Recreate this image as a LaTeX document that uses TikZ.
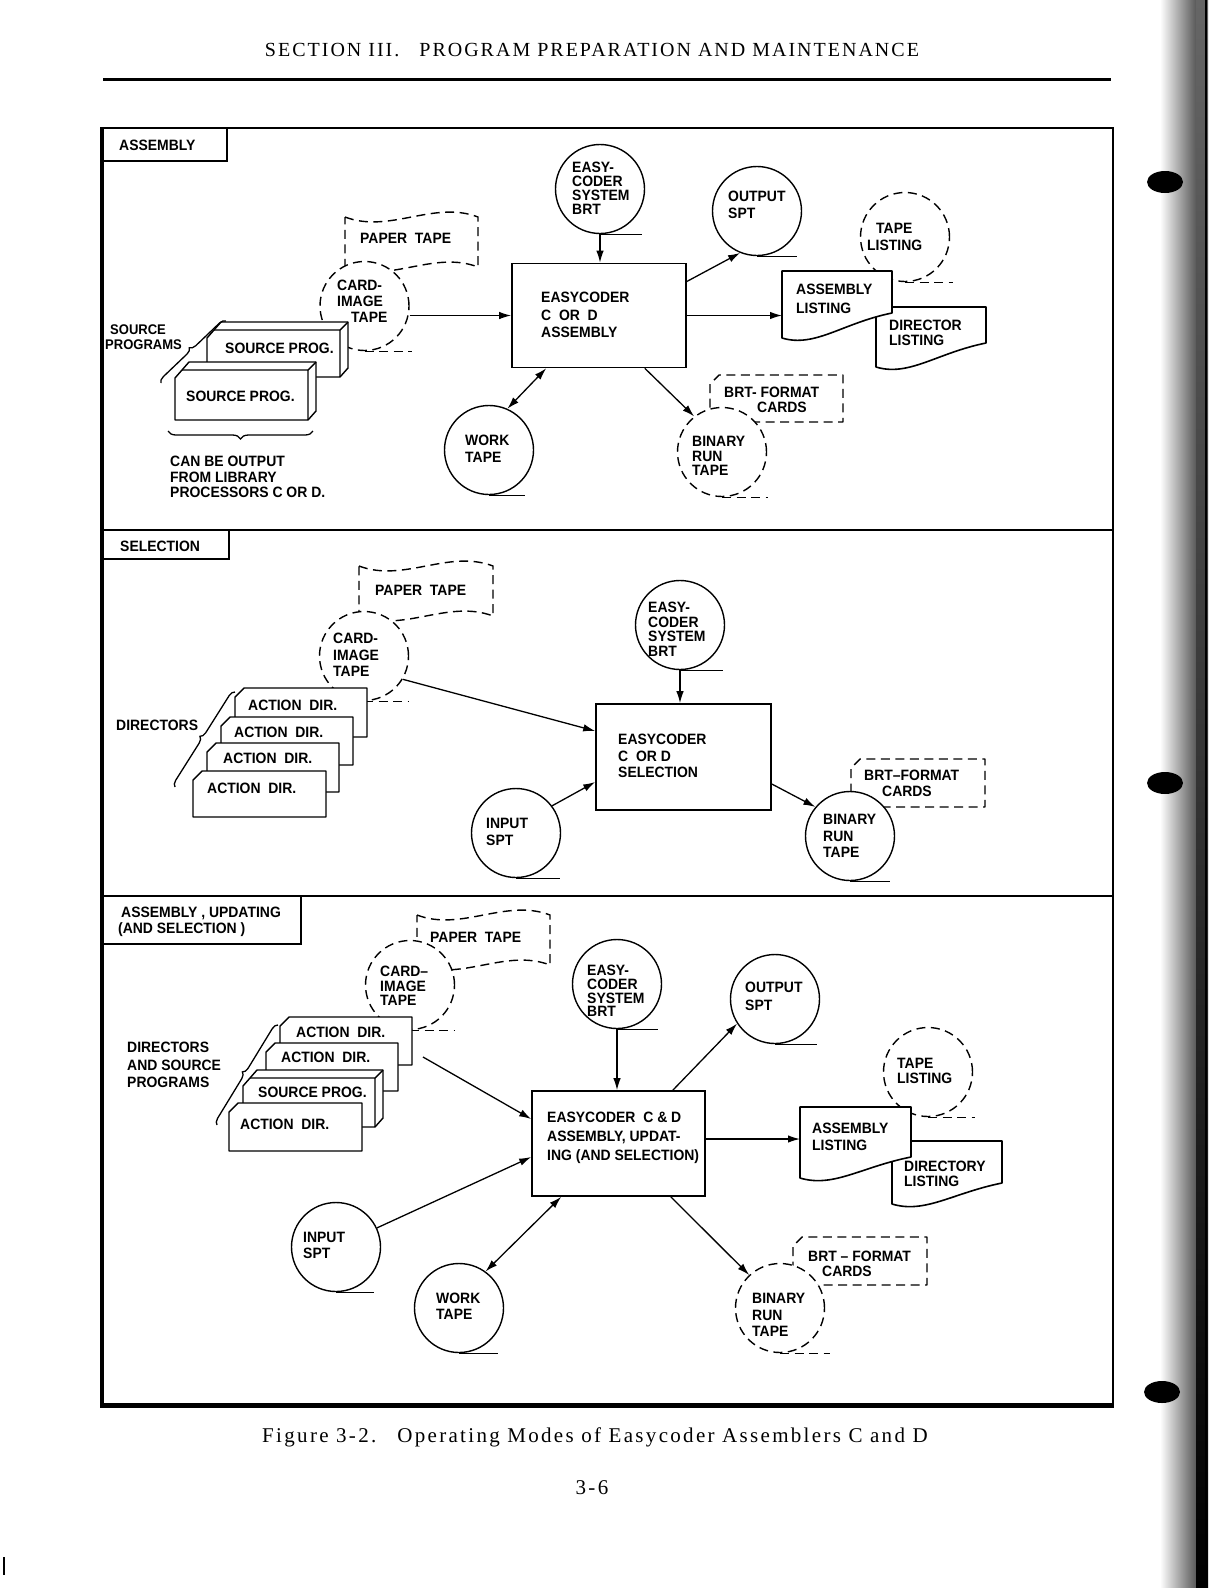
\documentclass[tikz,border=0pt]{standalone}
\usepackage{fontspec}
\setmainfont{Liberation Serif}
\newfontfamily\lblfam[FakeStretch=0.93]{Liberation Sans}
\newfontfamily\hdrfam[LetterSpace=10]{Liberation Serif}
\newfontfamily\capfam[LetterSpace=11]{Liberation Serif}
\usetikzlibrary{arrows.meta,decorations.pathreplacing,shadings}

\tikzset{
 ln/.style={line width=1.4pt},
 bx/.style={draw, line width=1.6pt, fill=white, inner sep=0pt, minimum width=174pt, minimum height=104pt},
 dsh/.style={dash pattern=on 9pt off 5.5pt},
 reel/.style={circle, draw, line width=1.4pt, fill=white, minimum size=89pt, inner sep=0pt},
 dreel/.style={reel, dsh},
 arr/.style={line width=1.3pt, -{Latex[length=12pt,width=7.5pt]}},
 darr/.style={line width=1.3pt, {Latex[length=12pt,width=7.5pt]}-{Latex[length=12pt,width=7.5pt]}},
 lab/.style={font={\fontsize{15}{#1}\selectfont\lblfam\bfseries}, anchor=north west, inner sep=0pt, align=left},
 lab/.default=17,
 brc/.style={decorate, decoration={brace, amplitude=#1}, line width=1.3pt},
 brc/.default=6pt,
}

% cut-corner card: x1 y1 x2 y2
\newcommand\cardshape[5][]{\draw[ln,fill=white,line join=round,#1] (#2,#5) -- (#2,#3+9) -- (#2+9,#3) -- (#4,#3) -- (#4,#5) -- cycle;}
% source program deck: x1 ytop x2 ybot
\newcommand\srcbox[4]{%
 \draw[ln,fill=white,line join=round] (#1,#4) -- (#1,#2+16) -- (#1+14,#2) -- (#3+8,#2) -- (#3+8,#4-9) -- (#3,#4) -- cycle;
 \draw[ln] (#1+7,#2+8) -- (#3,#2+8) -- (#3+8,#2) (#3,#2+8) -- (#3,#4);}
% paper tape: x1 ytop x2 h
\newcommand\ptape[4]{\draw[ln,dsh,fill=white] (#1,#2) .. controls ({#1+(#3-#1)/3},#2+17) and ({#1+2*(#3-#1)/3},#2-17) .. (#3,#2) -- (#3,#2+#4) .. controls ({#1+2*(#3-#1)/3},#2+#4-17) and ({#1+(#3-#1)/3},#2+#4+17) .. (#1,#2+#4) -- cycle;}
% document: x1 x2 ytop yleftbottom yrightbottom
\newcommand\docshape[5]{\draw[line width=1.6pt,fill=white,line join=round] (#1,#3) -- (#2,#3) -- (#2,#5) .. controls ({#2-0.45*(#2-#1)},#5+10) and ({#1+0.3*(#2-#1)},#4+10) .. (#1,#4) -- cycle;}
\newcommand\reeltail[3][]{\draw[ln,#1] (#2.south) -- ++(#3,0);}

\begin{document}
\begin{tikzpicture}[x=1pt,y=-1pt]
\fill[white] (0,0) rectangle (1226,1588);
\useasboundingbox (0,0) rectangle (1226,1588);

% binding edge of the scan
\shade[left color=white,right color=black!65] (1160,0) rectangle (1196,1588);
\shade[top color=black!60,bottom color=black] (1196,0) rectangle (1208,1588);
\draw[line width=1.2pt] (1206,0) -- (1206,1588);
\fill (1165,182) ellipse (18pt and 11pt);
\fill (1165,783) ellipse (18pt and 11pt);
\fill (1162,1392) ellipse (18pt and 11pt);
\draw[line width=1.5pt] (4,1557) -- (4,1575);

% header
\node[font=\hdrfam\fontsize{20}{24}\selectfont] (hdr) at (592,50) {SECTION III.\quad PROGRAM PREPARATION AND MAINTENANCE};
\draw[line width=3pt] (103,79) -- (1111,79);

% frame
\draw[line width=2pt] (101,128) -- (1113,128) -- (1113,1405);
\draw[line width=4pt] (102,127) -- (102,1406);
\draw[line width=5pt] (100,1405) -- (1114,1405);
\draw[line width=2pt] (101,530) -- (1113,530);
\draw[line width=2pt] (101,896) -- (1113,896);

%================ SECTION 1: ASSEMBLY
\draw[line width=1.8pt] (101,161) -| (227,128);
\node[lab] (t-asm) at (119,140) {ASSEMBLY};

\ptape{345}{217}{478}{50}
\node[lab] (t-pt1) at (360,233) {PAPER\ \ TAPE};
\node[dreel] (ci1) at (364.5,306) {};
\reeltail[dsh]{ci1}{47}
\node[lab=16] (t-ci1) at (337,280) {CARD-\\IMAGE\\\hspace*{14pt}TAPE};

\srcbox{207}{322}{340}{377}
\node[lab] (t-sp1a) at (225,343) {SOURCE PROG.};
\srcbox{175}{362}{308}{420}
\node[lab] (t-sp1b) at (186,391) {SOURCE PROG.};
\node[lab=15, font={\fontsize{14}{15}\selectfont\lblfam\bfseries}] (t-srcprogs) at (105,325) {\hspace*{5pt}SOURCE\\PROGRAMS};
\draw[brc] (161,383) -- (226,321);
\draw[brc=8pt] (313,431) -- (168,431);
\node[lab=15.5] (t-canbe) at (170,456) {CAN BE OUTPUT\\FROM LIBRARY\\PROCESSORS C OR D.};

\node[bx] (box1) at (599,315.5) {};
\node[lab=17.5] (t-box1) at (541,292) {EASYCODER\\C\ \ OR\ \ D\\ASSEMBLY};

\node[reel] (ecb1) at (600,189) {};
\reeltail{ecb1}{42}
\node[lab=14] (t-ecb1) at (572,162) {EASY-\\CODER\\SYSTEM\\BRT};

\node[reel] (out1) at (757,211) {};
\reeltail{out1}{40}
\node[lab] (t-out1) at (728,191) {OUTPUT\\SPT};

\node[dreel] (tl1) at (905,237) {};
\reeltail[dsh]{tl1}{48}
\node[lab] (t-tl1) at (867,223) {\hspace*{9pt}TAPE\\LISTING};
\docshape{876}{986}{307}{367}{343}
\node[lab=15] (t-dl1) at (889,320) {DIRECTOR\\LISTING};
\docshape{782}{892}{271}{338}{313}
\coordinate (al1w) at (782,313);
\node[lab=19] (t-al1) at (796,284) {ASSEMBLY\\LISTING};

\cardshape[dsh]{710}{375}{843}{422}
\node[dreel] (bin1) at (722,452) {};
\reeltail[dsh]{bin1}{46}
\node[lab=15] (t-brt1) at (724,387) {BRT- FORMAT\\\hspace*{33pt}CARDS};
\node[lab=14.5] (t-bin1) at (692,436) {BINARY\\RUN\\TAPE};

\node[reel] (work1) at (489,450) {};
\reeltail{work1}{36}
\node[lab] (t-work1) at (465,435) {WORK\\TAPE};

\draw[arr] (ecb1.south) -- (ecb1.south |- box1.north);
\draw[arr] ([yshift=34pt]box1.east) -- (out1.248);
\draw[arr] (box1.east) -- (box1.east -| al1w);
\draw[arr] ([xshift=-42pt]box1.south east) -- (bin1.128);
\draw[darr] ([xshift=35pt]box1.south west) -- (work1.66);
\draw[arr] (ci1.east |- box1.west) -- (box1.west);

%================ SECTION 2: SELECTION
\draw[line width=1.8pt] (101,559) -| (229,530);
\node[lab] (t-sel) at (120,541) {SELECTION};

\ptape{359}{566}{493}{50}
\node[lab] (t-pt2) at (375,585) {PAPER\ \ TAPE};
\node[dreel] (ci2) at (364,656) {};
\reeltail[dsh]{ci2}{44}
\node[lab=16.5] (t-ci2) at (333,633) {CARD-\\IMAGE\\TAPE};

\cardshape{235}{688}{367}{737}
\node[lab] (t-ad2a) at (248,700) {ACTION\ \ DIR.};
\cardshape{221}{717}{353}{765}
\node[lab] (t-ad2b) at (234,727) {ACTION\ \ DIR.};
\cardshape{207}{743}{339}{792}
\node[lab] (t-ad2c) at (223,753) {ACTION\ \ DIR.};
\cardshape{193}{771}{326}{817}
\node[lab] (t-ad2d) at (207,783) {ACTION\ \ DIR.};
\node[lab] (t-dirs2) at (116,720) {DIRECTORS};
\draw[brc] (175,787) -- (235,692);

\node[bx, minimum width=175pt, minimum height=106pt] (box2) at (683.5,757) {};
\node[lab=16.5] (t-box2) at (618,734) {EASYCODER\\C\ \ OR D\\SELECTION};

\node[reel] (ecb2) at (680,625) {};
\reeltail{ecb2}{43}
\node[lab=14.5] (t-ecb2) at (648,602) {EASY-\\CODER\\SYSTEM\\BRT};

\node[reel] (ip2) at (516,833) {};
\reeltail{ip2}{44}
\node[lab] (t-ip2) at (486,818) {INPUT\\SPT};

\cardshape[dsh]{851}{759}{985}{807}
\node[reel] (bin2) at (850,836) {};
\reeltail{bin2}{40}
\node[lab=16] (t-brt2) at (864,770) {BRT–FORMAT\\\hspace*{18pt}CARDS};
\node[lab=16.5] (t-bin2) at (823,814) {BINARY\\RUN\\TAPE};

\draw[arr] (ecb2.south) -- (ecb2.south |- box2.north);
\draw[arr] (ci2.329) -- ([yshift=26pt]box2.west);
\draw[arr] (ip2.37) -- ([yshift=-25pt]box2.west);
\draw[arr] ([yshift=-27pt]box2.east) -- (bin2.140);

%================ SECTION 3: ASSEMBLY, UPDATING (AND SELECTION)
\draw[line width=1.8pt] (101,944) -| (301,896);
\node[lab=16] (t-aus) at (118,907) {\hspace*{3pt}ASSEMBLY , UPDATING\\(AND SELECTION )};

\ptape{417}{915}{550}{50}
\node[lab] (t-pt3) at (430,932) {PAPER\ \ TAPE};
\node[dreel] (ci3) at (410,985) {};
\reeltail[dsh]{ci3}{45}
\node[lab=14.5] (t-ci3) at (380,966) {CARD–\\IMAGE\\TAPE};

\cardshape{280}{1017}{412}{1065}
\node[lab] (t-ad3a) at (296,1027) {ACTION\ \ DIR.};
\cardshape{266}{1043}{398}{1091}
\node[lab] (t-ad3b) at (281,1052) {ACTION\ \ DIR.};
\srcbox{243}{1070}{375}{1127}
\node[lab] (t-sp3) at (258,1087) {SOURCE PROG.};
\cardshape{229}{1103}{362}{1151}
\node[lab] (t-ad3d) at (240,1119) {ACTION\ \ DIR.};
\node[lab=17.5] (t-dirs3) at (127,1042) {DIRECTORS\\AND SOURCE\\PROGRAMS};
\draw[brc] (217,1125) -- (278,1025);
\coordinate (dirs3) at (423,1057);

\node[bx, minimum width=173pt, minimum height=105pt] (box3) at (618.5,1143.5) {};
\node[lab=19] (t-box3) at (547,1112) {EASYCODER\ \ C \& D\\ASSEMBLY, UPDAT-\\ING (AND SELECTION)};

\node[reel] (ecb3) at (617,984) {};
\reeltail{ecb3}{41}
\node[lab=13.7] (t-ecb3) at (587,965) {EASY-\\CODER\\SYSTEM\\BRT};

\node[reel] (out3) at (775,999) {};
\reeltail{out3}{42}
\node[lab=18] (t-out3) at (745,982) {OUTPUT\\SPT};

\node[dreel] (tl3) at (928,1072) {};
\reeltail[dsh]{tl3}{47}
\node[lab=15] (t-tl3) at (897,1058) {TAPE\\LISTING};
\docshape{892}{1002}{1141}{1204}{1183}
\node[lab=15] (t-dl3) at (904,1161) {DIRECTORY\\LISTING};
\docshape{800}{911}{1107}{1178}{1157}
\coordinate (al3w) at (800,1139);
\node[lab] (t-al3) at (812,1123) {ASSEMBLY\\LISTING};

\cardshape[dsh]{793}{1237}{927}{1285}
\node[dreel] (bin3) at (780,1308) {};
\reeltail[dsh]{bin3}{50}
\node[lab=15] (t-brt3) at (808,1251) {BRT – FORMAT\\\hspace*{14pt}CARDS};
\node[lab=16.5] (t-bin3) at (752,1293) {BINARY\\RUN\\TAPE};

\node[reel] (ip3) at (336,1247) {};
\reeltail{ip3}{38}
\node[lab=16] (t-ip3) at (303,1232) {INPUT\\SPT};

\node[reel] (work3) at (459,1308) {};
\reeltail{work3}{39}
\node[lab=16] (t-work3) at (436,1293) {WORK\\TAPE};

\draw[arr] (ecb3.south) -- (ecb3.south |- box3.north);
\draw[arr] ([xshift=-33pt]box3.north east) -- (out3.213);
\draw[arr] (box3.east |- al3w) -- (al3w);
\draw[arr] ([xshift=-35pt]box3.south east) -- (bin3.133);
\draw[arr] (ip3.25) -- ([yshift=-13.5pt]box3.west);
\draw[darr] ([xshift=30pt]box3.south west) -- (work3.54);
\draw[arr] (dirs3) -- ([yshift=24.5pt]box3.west);

% caption
\node[font=\capfam\fontsize{21}{25}\selectfont] (caption) at (595,1437) {Figure 3-2.\quad Operating Modes of Easycoder Assemblers C and D};
\node[font=\capfam\fontsize{21}{25}\selectfont] (pageno) at (592,1488) {3-6};
\end{tikzpicture}
\end{document}
